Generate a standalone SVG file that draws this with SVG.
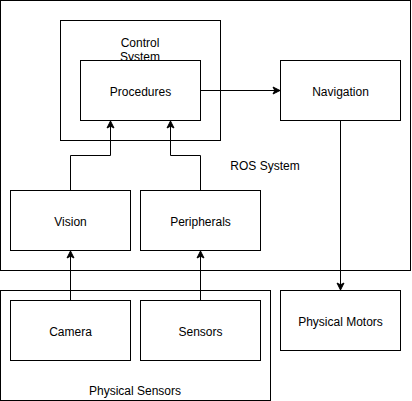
<svg xmlns="http://www.w3.org/2000/svg" width="412" height="401" viewBox="0 0 412 401">
<defs>
<style>
.box{fill:#fff;stroke:#000;stroke-width:1}
.frame{fill:none;stroke:#000;stroke-width:1}
.t{font-family:"Liberation Sans",Arial,sans-serif;font-size:12px;fill:#000;text-anchor:middle}
.c{fill:none;stroke:#000;stroke-width:1}
</style>
<marker id="a" markerWidth="10" markerHeight="10" refX="8" refY="5" orient="auto" markerUnits="userSpaceOnUse">
<path d="M1,1.5 L8,5 L1,8.5 L2.8,5 Z" fill="#000" stroke="#000" stroke-width="1"/>
</marker>
</defs>
<rect width="412" height="401" fill="#fff"/>
<g id="ros-system">
<rect class="frame" x="0.5" y="0.5" width="410" height="270"/>
<text class="t" x="265" y="170">ROS System</text>
</g>
<g id="physical-sensors">
<rect class="frame" x="0.5" y="290.5" width="270" height="110"/>
<text class="t" x="135" y="395">Physical Sensors</text>
</g>
<g id="control-system">
<rect class="box" x="60.5" y="20.5" width="160" height="120"/>
<text class="t" x="140" y="47">Control</text>
<text class="t" x="140" y="61">System</text>
</g>
<g id="procedures">
<rect class="box" x="80.5" y="60.5" width="120" height="60"/>
<text class="t" x="140.5" y="96">Procedures</text>
</g>
<g id="navigation">
<rect class="box" x="280.5" y="60.5" width="120" height="60"/>
<text class="t" x="340.5" y="96">Navigation</text>
</g>
<g id="vision">
<rect class="box" x="10.5" y="190.5" width="120" height="60"/>
<text class="t" x="70.5" y="226">Vision</text>
</g>
<g id="peripherals">
<rect class="box" x="140.5" y="190.5" width="120" height="60"/>
<text class="t" x="200.5" y="226">Peripherals</text>
</g>
<g id="camera">
<rect class="box" x="10.5" y="300.5" width="120" height="60"/>
<text class="t" x="70.5" y="336">Camera</text>
</g>
<g id="sensors">
<rect class="box" x="140.5" y="300.5" width="120" height="60"/>
<text class="t" x="200.5" y="336">Sensors</text>
</g>
<g id="physical-motors">
<rect class="box" x="280.5" y="290.5" width="120" height="60"/>
<text class="t" x="340.5" y="326">Physical Motors</text>
</g>
<g id="connectors">
<path class="c" d="M70.5,190.5 V155.5 H110.5 V121" marker-end="url(#a)"/>
<path class="c" d="M200.5,190.5 V155.5 H170.5 V121" marker-end="url(#a)"/>
<path class="c" d="M70.5,300.5 V251" marker-end="url(#a)"/>
<path class="c" d="M200.5,300.5 V251" marker-end="url(#a)"/>
<path class="c" d="M200.5,90.5 H280" marker-end="url(#a)"/>
<path class="c" d="M340.5,120.5 V290" marker-end="url(#a)"/>
</g>
</svg>
